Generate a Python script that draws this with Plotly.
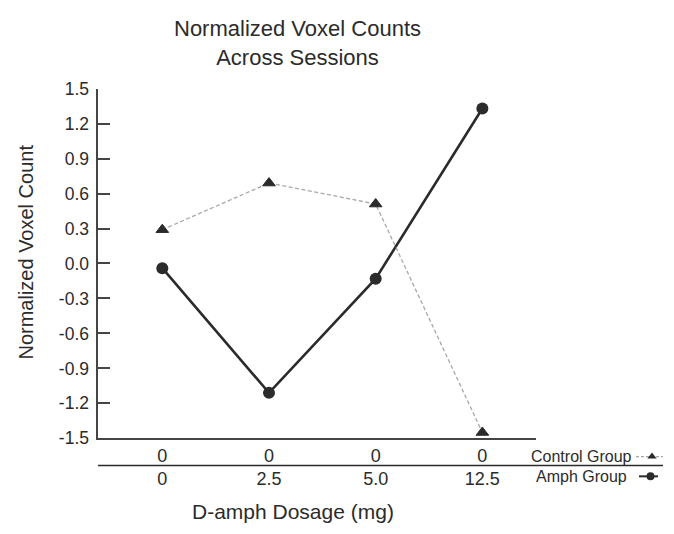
import plotly.graph_objects as go

# ---- data ----
dosage_labels = ["0", "2.5", "5.0", "12.5"]          # Amph group dosage (mg)
control_labels = ["0", "0", "0", "0"]                # Control group dosage (mg)
control_values = [0.29, 0.69, 0.51, -1.45]
amph_values = [-0.04, -1.11, -0.13, 1.33]
y_tick_values = [-1.5, -1.2, -0.9, -0.6, -0.3, 0.0, 0.3, 0.6, 0.9, 1.2, 1.5]
y_tick_labels = ["-1.5", "-1.2", "-0.9", "-0.6", "-0.3", "0.0", "0.3", "0.6", "0.9", "1.2", "1.5"]
group_names = ["Control Group", "Amph Group"]
boundary_ticks = [0.5, 1.5, 2.5, 3.5]

W, H = 674, 534


def px(x):
    return x / W


def py(y):
    return 1 - y / H


FONT = "Liberation Sans, Arial, Helvetica, sans-serif"
INK = "#2b2b2b"
AXIS = "#454545"
DASH = "#a8a8a8"
CLEAR = "rgba(0,0,0,0)"

fig = go.Figure()

fig.add_trace(go.Scatter(
    x=dosage_labels, y=amph_values, mode="lines+markers", name=group_names[1],
    line=dict(color=INK, width=2.6),
    marker=dict(symbol="circle", size=12, color=INK),
    showlegend=False, cliponaxis=False, xaxis="x", yaxis="y"))
fig.add_trace(go.Scatter(
    x=dosage_labels, y=control_values, mode="lines+markers", name=group_names[0],
    line=dict(color=DASH, width=1.3, dash="4px,2.5px"),
    marker=dict(symbol="triangle-up", size=11, color=INK, line=dict(color=INK, width=1)),
    showlegend=False, cliponaxis=False, xaxis="x", yaxis="y"))

# legend keys (drawn on a pixel-space helper axis, symbol to the right of the text)
fig.add_trace(go.Scatter(x=[636, 663], y=[464, 464], mode="lines",
                         line=dict(color=DASH, width=1.3, dash="3px,2px"),
                         showlegend=False, hoverinfo="skip", xaxis="x3", yaxis="y3"))
fig.add_trace(go.Scatter(x=[652], y=[464], mode="markers",
                         marker=dict(symbol="triangle-up", size=8, color=INK),
                         showlegend=False, hoverinfo="skip", xaxis="x3", yaxis="y3"))
fig.add_trace(go.Scatter(x=[639, 658], y=[484.5, 484.5], mode="lines",
                         line=dict(color=INK, width=2),
                         showlegend=False, hoverinfo="skip", xaxis="x3", yaxis="y3"))
fig.add_trace(go.Scatter(x=[650.5], y=[484.5], mode="markers",
                         marker=dict(symbol="circle", size=8, color=INK),
                         showlegend=False, hoverinfo="skip", xaxis="x3", yaxis="y3"))

fig.update_layout(
    width=W, height=H,
    margin=dict(l=0, r=0, t=0, b=0),
    paper_bgcolor="white", plot_bgcolor=CLEAR,
    font=dict(family=FONT, color=INK),
    showlegend=False,
    xaxis=dict(
        type="category", domain=[px(98.3), px(535.7)], range=[-0.6, 3.5],
        tickvals=dosage_labels,
        ticktext=[f"{c}<br>{d}" for c, d in zip(control_labels, dosage_labels)],
        ticks="", showline=True, linecolor=AXIS, linewidth=1.6,
        showgrid=False, zeroline=False, anchor="y",
        tickfont=dict(size=18, color=INK, family=FONT),
    ),
    xaxis2=dict(
        overlaying="x", range=[-0.6, 3.5], tickvals=boundary_ticks,
        ticks="inside", ticklen=9, tickwidth=1.6, tickcolor=AXIS,
        showticklabels=False, showline=False, showgrid=False, zeroline=False,
        anchor="y", side="bottom",
    ),
    yaxis=dict(
        domain=[py(445), py(81.7)], range=[-1.5, 1.5],
        tickvals=y_tick_values, ticktext=y_tick_labels,
        ticks="inside", ticklen=12, tickwidth=1.6, tickcolor=AXIS,
        showline=True, linecolor=AXIS, linewidth=1.6,
        showgrid=False, zeroline=False, anchor="x",
        ticklabelstandoff=4,
        tickfont=dict(size=17.5, color=INK, family=FONT),
    ),
    xaxis3=dict(domain=[0, 1], range=[0, W], visible=False, anchor="y3", fixedrange=True),
    yaxis3=dict(domain=[0, 1], range=[H, 0], visible=False, anchor="x3", fixedrange=True),
    shapes=[dict(type="line", xref="paper", yref="paper",
                 x0=px(98), x1=px(663), y0=py(473.3), y1=py(473.3),
                 line=dict(color=INK, width=1.6))],
    annotations=[
        dict(text="Normalized Voxel Counts<br>Across Sessions", xref="paper", yref="paper",
             x=px(297), y=py(34), xanchor="center", yanchor="middle", showarrow=False,
             font=dict(size=22, color=INK, family=FONT)),
        dict(text="Normalized Voxel Count", xref="paper", yref="paper",
             x=px(26), y=py(252), xanchor="center", yanchor="middle", textangle=-90,
             showarrow=False, font=dict(size=20, color=INK, family=FONT)),
        dict(text="D-amph Dosage (mg)", xref="paper", yref="paper",
             x=px(293), y=py(521), xanchor="center", yanchor="middle",
             showarrow=False, font=dict(size=21, color=INK, family=FONT)),
        dict(text=group_names[0], xref="paper", yref="paper",
             x=px(634), y=py(464), xanchor="right", yanchor="middle",
             showarrow=False, font=dict(size=16, color=INK, family=FONT)),
        dict(text=group_names[1], xref="paper", yref="paper",
             x=px(629), y=py(484.5), xanchor="right", yanchor="middle",
             showarrow=False, font=dict(size=16, color=INK, family=FONT)),
    ],
)

fig.write_html("out.html", config={"displayModeBar": False},
               post_script="document.body.style.margin='0';")
